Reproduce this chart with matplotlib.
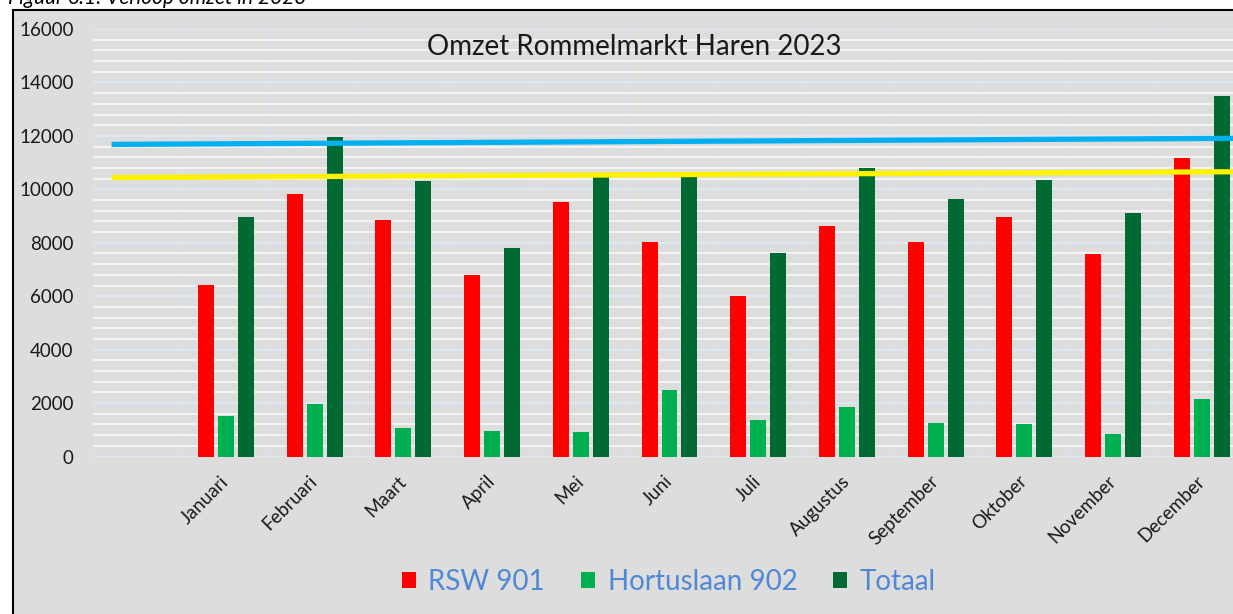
import numpy as np
import matplotlib
matplotlib.use('Agg')
from matplotlib import pyplot as plt
from matplotlib.patches import Rectangle

# Gegevens
maanden = ['Januari', 'Februari', 'Maart', 'April', 'Mei', 'Juni', 'Juli',
           'Augustus', 'September', 'Oktober', 'November', 'December']
rsw_901 = [6430, 9820, 8870, 6780, 9520, 8020, 6000, 8620, 8020, 8970, 7580, 11190]
hortuslaan_902 = [1530, 1950, 1050, 950, 900, 2500, 1350, 1860, 1240, 1200, 840, 2150]
totaal = [8970, 11940, 10300, 7820, 10500, 10650, 7630, 10800, 9620, 10350, 9120, 13490]

# de twee horizontale lijnen (begin- en eindwaarde)
lijn_x = [-0.29, 12.5]
lijn_blauw = [11680, 11910]
lijn_geel = [10440, 10660]

y_ticks = [0, 2000, 4000, 6000, 8000, 10000, 12000, 14000, 16000]

plt.rcParams['font.family'] = ['Lato', 'DejaVu Sans']

fig = plt.figure(figsize=(12.33, 6.14), dpi=100)
fig.patch.set_facecolor('white')

grijs = '#dddddd'
# grijze achtergrond met zwarte rand links en boven
fig.patches.append(Rectangle((13 / 1233, -0.01), 1.0, (604 / 614) + 0.01,
                             transform=fig.transFigure, facecolor=grijs,
                             edgecolor='black', linewidth=1.5, zorder=-10))

# bijschrift bovenaan (grotendeels buiten beeld)
fig.text(8 / 1233, 1 - 4 / 614, 'Figuur 6.1: Verloop omzet in 2023',
         fontsize=15, style='italic', color='black', va='baseline', ha='left')

ax = fig.add_axes([93 / 1233, 157.5 / 614, 1153 / 1233, 427.5 / 614])
ax.set_zorder(1)
ax.set_facecolor(grijs)

x = np.arange(1, 13)
w = 0.18
d = 0.225
ax.bar(x - d, rsw_901, w, color='#ff0000', label='RSW 901', zorder=3)
ax.bar(x, hortuslaan_902, w, color='#00b050', label='Hortuslaan 902', zorder=3)
ax.bar(x + d, totaal, w, color='#006a32', label='Totaal', zorder=3)

ax.plot(lijn_x, lijn_blauw, color='#00b0f0', lw=3.8, solid_capstyle='butt', zorder=4)
ax.plot(lijn_x, lijn_geel, color='#fff200', lw=3.8, solid_capstyle='butt', zorder=4)

ax.set_xlim(-0.5, 12.5)
ax.set_ylim(0, 16000)

ax.set_yticks(y_ticks)
ax.set_yticklabels([str(v) for v in y_ticks])
ax.set_yticks(np.arange(0, 16001, 400), minor=True)
ax.set_xticks(x)
ax.set_xticklabels(maanden, rotation=45, ha='right', va='center', rotation_mode='anchor')
ax.set_xticks(np.arange(-0.5, 13, 1), minor=True)

ax.tick_params(axis='both', which='both', length=0)
ax.tick_params(axis='y', labelsize=13.5, pad=14, labelcolor='#1a1a1a')
ax.tick_params(axis='x', labelsize=13.5, pad=16, labelcolor='#1a1a1a')

ax.grid(axis='y', which='minor', color='#f4f4f4', lw=1.4, zorder=1)
ax.grid(axis='y', which='major', color='#dfe8f5', lw=1.4, zorder=1)
ax.grid(axis='x', which='minor', color='#d6e1f2', lw=1.2, zorder=1)
ax.grid(axis='x', which='major', visible=False)
for s in ax.spines.values():
    s.set_visible(False)

fig.text(634 / 1233, 1 - 47 / 614, 'Omzet Rommelmarkt Haren 2023',
         fontsize=20, ha='center', va='center', color='#1a1a1a', zorder=5)

fig.legend(loc='center', bbox_to_anchor=(669 / 1233, 32 / 614), ncol=3,
           frameon=False, fontsize=20, labelcolor='#4f88d6',
           handlelength=0.5, handleheight=0.5, handletextpad=0.45,
           columnspacing=1.3)

plt.savefig('out.png', dpi=100)
